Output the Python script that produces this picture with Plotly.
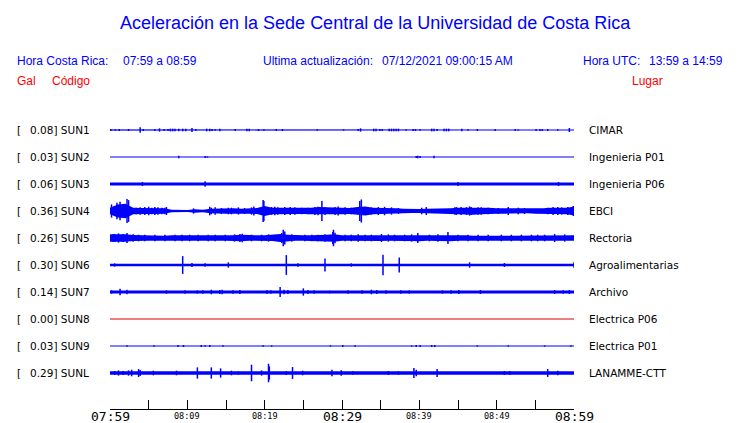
import plotly.graph_objects as go

# ---------------- data ----------------
CODES = ["SUN1", "SUN2", "SUN3", "SUN4", "SUN5", "SUN6", "SUN7", "SUN8", "SUN9", "SUNL"]
PEAK_GAL = [0.08, 0.03, 0.06, 0.36, 0.26, 0.30, 0.14, 0.00, 0.03, 0.29]
PLACES = ["CIMAR", "Ingenieria P01", "Ingenieria P06", "EBCI", "Rectoria",
          "Agroalimentarias", "Archivo", "Electrica P06", "Electrica P01", "LANAMME-CTT"]

TICK_MIN = [0, 5, 10, 15, 20, 25, 30, 35, 40, 45, 50, 55, 60]
LABEL_MIN = [0, 10, 20, 30, 40, 50, 60]
LABEL_TXT = ["07:59", "08:09", "08:19", "08:29", "08:39", "08:49", "08:59"]
LABEL_BIG = [True, False, False, True, False, False, True]

# envelope (half amplitude, Gal) of the background band, minutes since 07:59
ENV_T_COARSE = [0, 5, 10, 15, 20, 25, 30, 35, 40, 45, 50, 55, 60]
ENV_T_FINE = [0, 1, 2, 3, 4, 5, 6, 7, 8, 9, 10, 11, 12, 13, 14, 15, 16, 17, 18, 19, 20,
              21, 22, 23, 24, 25, 26, 27, 28, 29, 30, 31, 32, 33, 34, 35, 36, 37, 38, 39, 40,
              41, 42, 43, 44, 45, 46, 47, 48, 49, 50, 51, 52, 53, 54, 55, 56, 57, 58, 59, 60]

ENV_SUN1 = [0.01, 0.01, 0.01, 0.01, 0.01, 0.01, 0.01, 0.01, 0.01, 0.01, 0.01, 0.01, 0.01]
ENV_SUN2 = [0, 0, 0, 0, 0, 0, 0, 0, 0, 0, 0, 0, 0]
ENV_SUN3 = [0.045, 0.045, 0.045, 0.045, 0.045, 0.045, 0.045, 0.045, 0.045, 0.045, 0.045, 0.045, 0.045]
ENV_SUN4 = [0.10, 0.20, 0.22, 0.10, 0.09, 0.09, 0.08, 0.08, 0.04, 0.03, 0.03, 0.05, 0.04,
            0.07, 0.08, 0.08, 0.08, 0.07, 0.08, 0.09, 0.15, 0.10, 0.10, 0.10, 0.09, 0.09,
            0.10, 0.12, 0.11, 0.10, 0.10, 0.09, 0.12, 0.14, 0.10, 0.10, 0.09, 0.08, 0.07,
            0.06, 0.06, 0.07, 0.07, 0.07, 0.08, 0.10, 0.10, 0.11, 0.10, 0.10, 0.08, 0.08,
            0.07, 0.08, 0.07, 0.08, 0.08, 0.10, 0.10, 0.10, 0.13]
ENV_SUN5 = [0.11, 0.12, 0.11, 0.09, 0.08, 0.08, 0.08, 0.07, 0.08, 0.08, 0.09, 0.08, 0.08,
            0.07, 0.08, 0.08, 0.08, 0.10, 0.08, 0.08, 0.08, 0.09, 0.12, 0.10, 0.08, 0.08,
            0.08, 0.08, 0.10, 0.11, 0.08, 0.08, 0.08, 0.08, 0.09, 0.09, 0.08, 0.08, 0.08,
            0.09, 0.10, 0.08, 0.08, 0.09, 0.10, 0.08, 0.08, 0.07, 0.08, 0.07, 0.07, 0.07,
            0.08, 0.07, 0.08, 0.07, 0.08, 0.08, 0.08, 0.08, 0.08]
ENV_SUN6 = [0.04, 0.04, 0.04, 0.04, 0.04, 0.04, 0.04, 0.04, 0.04, 0.04, 0.04, 0.04, 0.04]
ENV_SUN7 = [0.045, 0.045, 0.045, 0.045, 0.045, 0.045, 0.045, 0.045, 0.045, 0.045, 0.045, 0.045, 0.045]
ENV_SUN8 = [0, 0, 0, 0, 0, 0, 0, 0, 0, 0, 0, 0, 0]
ENV_SUN9 = [0, 0, 0, 0, 0, 0, 0, 0, 0, 0, 0, 0, 0]
ENV_SUNL = [0.05, 0.05, 0.05, 0.05, 0.05, 0.05, 0.05, 0.05, 0.05, 0.05, 0.05, 0.05, 0.05]

# individual peaks: (minute, half amplitude Gal)
SPK_SUN1 = [(0.1, .03), (0.7, .02), (1.2, .03), (2.4, .03), (3.9, .08), (4.3, .03), (5.8, .03),
            (6.4, .05), (7.0, .03), (7.5, .03), (7.8, .04), (8.1, .04), (8.4, .04), (8.9, .04),
            (9.4, .04), (9.8, .04), (10.6, .06), (11.1, .03), (12.5, .04), (12.9, .04), (13.2, .03),
            (13.6, .02), (14.2, .04), (16.2, .03), (17.7, .04), (18.0, .04), (19.2, .03), (19.9, .02),
            (21.5, .03), (22.3, .03), (26.8, .02), (30.2, .02), (32.1, .03), (32.4, .05), (34.1, .04),
            (34.4, .04), (34.9, .03), (35.2, .03), (36.1, .04), (36.4, .04), (36.7, .04), (37.0, .04),
            (37.3, .04), (38.3, .02), (39.2, .03), (39.5, .03), (40.1, .02), (41.6, .04), (41.9, .04),
            (42.3, .03), (43.2, .04), (43.5, .04), (43.8, .04), (45.5, .04), (46.3, .02), (47.5, .03),
            (49.8, .03), (52.4, .03), (52.8, .02), (55.1, .03), (55.6, .03), (55.9, .03), (56.6, .03),
            (57.9, .02), (59.4, .06)]
SPK_SUN2 = [(8.9, .04), (12.3, .03), (12.6, .02), (39.6, .03), (39.8, .04), (40.1, .03), (41.9, .04)]
SPK_SUN3 = [(4.2, .06), (12.3, .08), (45.0, .06), (58.0, .06)]
SPK_SUN4 = [(0.2, .20), (0.9, .25), (1.3, .28), (2.2, .36), (2.4, .33), (3.4, .10), (3.9, .11),
            (4.5, .12), (5.0, .13), (5.4, .10), (5.8, .12), (6.2, .11), (6.7, .10), (7.1, .10),
            (7.3, .12), (10.8, .08), (12.9, .13), (13.1, .10), (13.6, .11), (14.4, .09), (15.3, .10),
            (15.7, .10), (16.6, .11), (17.4, .09), (18.3, .11), (18.6, .14), (19.8, .33), (19.9, .30),
            (20.9, .12), (21.3, .13), (21.7, .11), (22.6, .12), (23.3, .12), (23.9, .11), (24.8, .10),
            (25.6, .10), (26.5, .12), (26.9, .13), (27.4, .30), (27.8, .12), (29.1, .12), (29.5, .14),
            (30.4, .11), (31.2, .10), (32.3, .30), (32.5, .35), (33.4, .12), (33.8, .11), (34.7, .12),
            (35.5, .13), (36.4, .11), (37.3, .09), (40.3, .10), (40.9, .12), (44.6, .11), (44.8, .12),
            (45.4, .12), (46.1, .12), (46.5, .14), (46.7, .12), (47.6, .11), (48.0, .11), (48.9, .10),
            (50.2, .09), (51.5, .12), (52.8, .10), (53.6, .09), (56.6, .10), (57.3, .12), (57.9, .12),
            (58.4, .11), (59.2, .12), (59.9, .15)]
SPK_SUN5 = [(0.4, .12), (0.6, .12), (1.1, .14), (1.7, .12), (2.2, .15), (3.0, .11), (3.7, .10),
            (4.5, .10), (5.8, .10), (7.1, .10), (8.4, .10), (9.3, .10), (10.3, .10), (11.4, .10),
            (12.7, .10), (13.6, .10), (14.9, .10), (16.1, .11), (16.8, .12), (17.1, .13), (18.3, .10),
            (19.6, .10), (20.5, .11), (22.2, .15), (22.4, .25), (22.6, .20), (23.5, .11), (25.2, .10),
            (26.1, .10), (26.9, .10), (27.8, .11), (28.8, .18), (28.9, .25), (29.1, .16), (30.4, .10),
            (31.2, .10), (32.1, .11), (33.0, .10), (33.8, .10), (35.1, .12), (36.0, .11), (36.8, .10),
            (38.1, .10), (39.0, .11), (39.8, .15), (41.3, .10), (42.4, .11), (43.7, .18), (45.0, .10),
            (46.3, .10), (47.6, .10), (48.9, .10), (50.6, .10), (51.9, .10), (53.2, .10), (54.5, .10),
            (55.3, .10), (56.2, .10), (57.5, .12), (58.8, .11)]
SPK_SUN6 = [(0.6, .05), (9.4, .27), (10.6, .06), (12.3, .05), (15.3, .08), (22.8, .30), (24.3, .05),
            (27.8, .20), (31.2, .05), (35.3, .31), (37.4, .23), (46.5, .08), (51.0, .06), (60.0, .08)]
SPK_SUN7 = [(0.2, .05), (1.3, .10), (2.2, .07), (7.3, .05), (9.7, .05), (11.3, .05), (12.0, .05),
            (13.1, .07), (14.2, .06), (14.5, .07), (15.9, .05), (16.8, .06), (20.3, .06), (20.8, .05),
            (22.0, .15), (22.5, .07), (23.0, .06), (25.0, .11), (25.6, .06), (26.4, .05), (28.4, .04),
            (30.8, .05), (32.6, .05), (33.8, .07), (34.5, .06), (35.7, .05), (37.6, .05), (38.7, .05),
            (43.0, .05), (44.1, .05), (45.1, .06), (47.9, .06), (57.5, .06), (58.6, .05), (59.4, .06)]
SPK_SUN8 = []
SPK_SUN9 = [(2.2, .02), (5.7, .02), (8.8, .03), (9.5, .03), (11.8, .03), (12.3, .02), (12.9, .03),
            (14.6, .02), (19.8, .02), (20.9, .02), (28.5, .02), (30.1, .03), (31.7, .02), (39.0, .02),
            (39.6, .03), (40.1, .03), (41.6, .03), (42.0, .03), (47.5, .02), (51.5, .02), (56.2, .02),
            (59.6, .02)]
SPK_SUNL = [(0.6, .06), (1.1, .08), (1.7, .06), (2.4, .08), (2.8, .10), (3.7, .12), (3.9, .09),
            (5.6, .07), (8.6, .07), (11.3, .17), (13.1, .17), (14.3, .14), (15.7, .07), (16.6, .05),
            (18.3, .25), (19.6, .08), (20.5, .28), (20.6, .20), (22.8, .06), (23.6, .18), (24.9, .07),
            (28.7, .10), (29.9, .08), (31.4, .05), (36.0, .06), (37.3, .05), (39.3, .15), (39.6, .10),
            (42.3, .12), (51.0, .06), (51.7, .06), (56.6, .12), (57.9, .07)]

ENVS = [ENV_SUN1, ENV_SUN2, ENV_SUN3, ENV_SUN4, ENV_SUN5, ENV_SUN6, ENV_SUN7, ENV_SUN8, ENV_SUN9, ENV_SUNL]
SPIKES = [SPK_SUN1, SPK_SUN2, SPK_SUN3, SPK_SUN4, SPK_SUN5, SPK_SUN6, SPK_SUN7, SPK_SUN8, SPK_SUN9, SPK_SUNL]

# ---------------- layout constants ----------------
PAGE_OFF = 8                     # default page margin of the html body
W, H = 740 - PAGE_OFF, 423 - PAGE_OFF
AX_L, AX_R, AX_T, AX_B = 110, 574, 117, 409
L, T = AX_L - PAGE_OFF, AX_T - PAGE_OFF
R, B = W - (AX_R - PAGE_OFF), H - (AX_B - PAGE_OFF)
PW, PH = AX_R - AX_L, AX_B - AX_T
PX_PER_GAL = 33.0
ROW_GAP = 27 / PX_PER_GAL
Y_TOP = 13 / PX_PER_GAL
Y_BOT = Y_TOP - PH / PX_PER_GAL

BLUE = "#0000ff"
RED = "#ff0000"


def px_x(px):
    return (px - AX_L) / PW


def px_y(py):
    return (AX_B - py) / PH


fig = go.Figure()

for i, code in enumerate(CODES):
    c = -i * ROW_GAP
    env = ENVS[i]
    tgrid = ENV_T_FINE if len(env) == len(ENV_T_FINE) else ENV_T_COARSE
    color = "#dd0000" if code == "SUN8" else BLUE
    if max(env) > 0:
        xs = list(tgrid) + list(reversed(tgrid))
        ys = [c + e for e in env] + [c - e for e in reversed(env)]
        fig.add_trace(go.Scatter(x=xs, y=ys, mode="lines", fill="toself",
                                 fillcolor=color, line=dict(width=0, color=color),
                                 hoverinfo="skip"))
    fig.add_trace(go.Scatter(x=[0, 60], y=[c, c], mode="lines",
                             line=dict(width=1.2, color=color), hoverinfo="skip"))
    sx, sy = [], []
    for t, a in SPIKES[i]:
        sx += [t, t, None]
        sy += [c - a, c + a, None]
    if sx:
        fig.add_trace(go.Scatter(x=sx, y=sy, mode="lines",
                                 line=dict(width=1.5, color=color), hoverinfo="skip"))

ann = []
ann.append(dict(text="Aceleración en la Sede Central de la Universidad de Costa Rica",
                x=px_x(375), y=px_y(23), xanchor="center", yanchor="middle",
                font=dict(family="Liberation Sans", size=18, color=BLUE)))
hdr = [("Hora Costa Rica:", 15, "left"), ("07:59 a 08:59", 120.5, "left"),
       ("Ultima actualización:", 261, "left"), ("07/12/2021 09:00:15 AM", 380, "left"),
       ("Hora UTC:", 581, "left"), ("13:59 a 14:59", 725, "right")]
for txt, xp, anc in hdr:
    ann.append(dict(text=txt, x=px_x(xp), y=px_y(61), xanchor=anc, yanchor="middle",
                    font=dict(family="Liberation Sans", size=12, color=BLUE)))
for txt, xp in [("Gal", 15), ("Código", 50.5), ("Lugar", 630)]:
    ann.append(dict(text=txt, x=px_x(xp), y=px_y(81), xanchor="left", yanchor="middle",
                    font=dict(family="Liberation Sans", size=12, color=RED)))

for i, code in enumerate(CODES):
    yp = px_y(130 + 27 * i)
    ann.append(dict(text="[", x=px_x(15), y=yp, xanchor="left", yanchor="middle",
                    font=dict(family="DejaVu Sans", size=10.5, color="#000000")))
    ann.append(dict(text=f"{PEAK_GAL[i]:.2f}] {code}", x=px_x(27.7), y=yp, xanchor="left",
                    yanchor="middle", font=dict(family="DejaVu Sans", size=10.5, color="#000000")))
    ann.append(dict(text=PLACES[i], x=px_x(587), y=yp, xanchor="left", yanchor="middle",
                    font=dict(family="DejaVu Sans", size=10.5, color="#000000")))

for m, txt, big in zip(LABEL_MIN, LABEL_TXT, LABEL_BIG):
    ann.append(dict(text=txt, x=m, xref="x", y=px_y(416), yref="paper",
                    xanchor="center", yanchor="middle", showarrow=False,
                    font=dict(family="DejaVu Sans Mono", size=13 if big else 8.5, color="#000000")))

for a in ann:
    a.setdefault("xref", "paper")
    a.setdefault("yref", "paper")
    a["showarrow"] = False

fig.update_layout(
    width=W, height=H,
    margin=dict(l=L, r=R, t=T, b=B, pad=0),
    paper_bgcolor="white", plot_bgcolor="white",
    showlegend=False,
    annotations=ann,
    xaxis=dict(range=[0, 60], showgrid=False, zeroline=False, showline=True,
               linecolor="#000000", linewidth=1, ticks="inside", ticklen=9, tickwidth=1,
               tickcolor="#000000", tickvals=TICK_MIN, showticklabels=False, fixedrange=True),
    yaxis=dict(range=[Y_BOT, Y_TOP], visible=False, fixedrange=True),
)

fig.write_html("out.html")
